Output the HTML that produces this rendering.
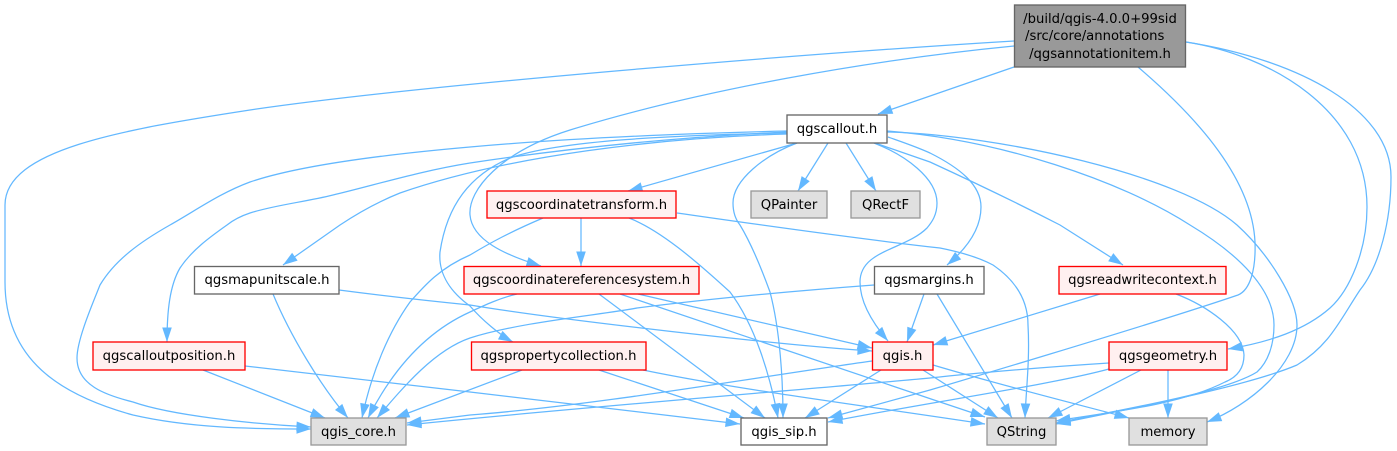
<!DOCTYPE html>
<html><head><meta charset="utf-8"><style>
html,body{margin:0;padding:0;background:#fff;width:1397px;height:451px;overflow:hidden}
svg{display:block}
text{font-family:"DejaVu Sans",sans-serif;font-size:13.2px;fill:#000;text-anchor:middle}
.e{fill:none;stroke:#63b8ff;stroke-width:1.25;marker-end:url(#a)}
.r{fill:#fff0f0;stroke:#f00;stroke-width:1.33}
.g{fill:#e0e0e0;stroke:#999;stroke-width:1.33}
.w{fill:#fff;stroke:#666;stroke-width:1.33}
</style></head><body>
<svg width="1397" height="451" viewBox="0 0 1397 451" xmlns="http://www.w3.org/2000/svg">
<defs><marker id="a" markerUnits="userSpaceOnUse" markerWidth="16" markerHeight="12" refX="15" refY="6" orient="auto" viewBox="0 0 16 12"><path d="M0.500,1.200 L15,6 L0.500,10.800 z" fill="#63b8ff"/></marker></defs>
<path class="e" d="M1014,41 C800,54 420,85 250,110 C120,130 5,150 5,205 L5,282 C5,360 60,395 133,415 C190,428 250,429 311,429"/>
<path class="e" d="M1014,67 L878,114"/>
<path class="e" d="M1014,46 C870,60 700,90 570,130 C500,152 468,190 470,215 C472,240 505,255 541,266"/>
<path class="e" d="M1138,67 C1200,120 1252,180 1255,242 C1256,270 1250,290 1238,295 C1150,325 930,390 930,390 L828,418"/>
<path class="e" d="M1186,42 C1270,55 1367,110 1367,207 C1367,250 1350,290 1330,308 C1305,330 1270,342 1228,349"/>
<path class="e" d="M1186,42 C1300,60 1391,110 1391,177 C1391,220 1380,265 1360,290 C1340,320 1330,345 1297,365 C1250,385 1150,405 1056,424"/>
<path class="e" d="M787,131 C660,134 560,139 470,147 C390,154 300,165 250,182 C220,193 195,211 170,225 C140,242 115,260 100,285 C92,305 77,340 77,358 C77,385 105,395 133,402 C170,415 250,424 311,427"/>
<path class="e" d="M787,132 C680,137 570,148 470,163 C420,171 375,185 333,195 C305,202 275,205 250,213 C238,217 232,221 227,225 C210,237 192,250 180,268 C170,285 167,310 167,342"/>
<path class="e" d="M787,134 C660,138 510,155 400,193 C375,203 355,215 340,225 L283,265"/>
<path class="e" d="M787,133 C680,135 560,140 510,158 C470,175 447,205 440,252 C438,275 452,293 470,306 C482,320 500,335 513,342"/>
<path class="e" d="M797,143 L628,191"/>
<path class="e" d="M797,143 C765,155 733,180 733,203 C733,213 736,220 740,225 C752,245 762,270 770,292 C780,330 783,380 783,418"/>
<path class="e" d="M828,143 L798,191"/>
<path class="e" d="M846,143 L876,191"/>
<path class="e" d="M874,143 C905,155 937,178 937,203 C937,215 932,222 927,228 C905,250 860,250 860,282 C860,300 870,320 888,341"/>
<path class="e" d="M888,137 C905,143 917,147 930,153 C960,168 981,185 981,207 C981,230 965,250 947,265"/>
<path class="e" d="M875,143 C890,148 910,155 930,162 C980,185 1025,207 1060,225 L1123,265"/>
<path class="e" d="M887,131 C1000,140 1120,180 1190,225 C1240,255 1274,290 1274,325 C1274,345 1268,362 1257,372 C1225,392 1130,408 1056,423"/>
<path class="e" d="M887,132 C1000,135 1180,175 1237,225 C1270,255 1297,300 1297,325 C1297,365 1250,405 1207,422"/>
<path class="e" d="M581,218 L581,266"/>
<path class="e" d="M543,218 C510,232 490,243 470,255 C440,268 425,285 410,302 C390,330 372,370 362,418"/>
<path class="e" d="M629,218 C660,230 695,260 730,292 C755,325 770,375 778,418"/>
<path class="e" d="M677,213 C740,222 850,238 940,248 C960,252 980,258 993,265 C1015,280 1028,300 1028,325 C1030,360 1026,390 1025,418"/>
<path class="e" d="M517,294 C500,298 485,305 470,312 C430,330 395,365 368,418"/>
<path class="e" d="M599,294 L765,418"/>
<path class="e" d="M638,294 L872,348"/>
<path class="e" d="M620,294 C680,315 800,355 940,402 L985,417"/>
<path class="e" d="M273,294 C290,335 320,385 348,418"/>
<path class="e" d="M339,290 C400,298 470,305 470,305 C560,320 780,345 872,351"/>
<path class="e" d="M874,285 C780,292 700,300 637,308 C600,315 520,322 470,338 C435,350 405,385 377,418"/>
<path class="e" d="M924,294 L907,342"/>
<path class="e" d="M937,294 L1012,418"/>
<path class="e" d="M1100,294 L933,345"/>
<path class="e" d="M1176,294 C1205,305 1243,330 1244,355 C1244,370 1235,378 1225,382 C1180,405 1110,412 1056,421"/>
<path class="e" d="M203,370 L325,418"/>
<path class="e" d="M245,366 L470,392 L740,424"/>
<path class="e" d="M522,370 L395,418"/>
<path class="e" d="M599,370 L744,418"/>
<path class="e" d="M643,370 C740,390 860,405 985,424"/>
<path class="e" d="M872,361 C750,378 600,405 470,415 L407,423"/>
<path class="e" d="M881,370 L805,418"/>
<path class="e" d="M923,370 L998,418"/>
<path class="e" d="M933,365 C1000,385 1080,405 1129,418"/>
<path class="e" d="M1109,363 C1000,370 930,378 930,378 C800,390 550,410 407,425"/>
<path class="e" d="M1109,369 C1050,385 930,402 828,422"/>
<path class="e" d="M1141,370 L1048,418"/>
<path class="e" d="M1168,370 L1168,418"/>

<rect x="1014.5" y="5" width="171" height="62" fill="#999" stroke="#666" stroke-width="1.33"/>
<text x="1100" y="23">/build/qgis-4.0.0+99sid</text>
<text x="1025" y="40" style="text-anchor:start">/src/core/annotations</text>
<text x="1100" y="58">/qgsannotationitem.h</text>
<rect class="w" x="787" y="115" width="100" height="28"/><text x="837" y="133">qgscallout.h</text>
<rect class="r" x="487" y="191" width="189" height="27"/><text x="581.5" y="209">qgscoordinatetransform.h</text>
<rect class="g" x="751" y="191" width="76" height="27"/><text x="789" y="209">QPainter</text>
<rect class="g" x="851" y="191" width="69" height="27"/><text x="885.5" y="209">QRectF</text>
<rect class="w" x="194.500" y="266.500" width="144.500" height="27.500"/><text x="267" y="284">qgsmapunitscale.h</text>
<rect class="r" x="464" y="266.500" width="235" height="27.500"/><text x="581.5" y="284">qgscoordinatereferencesystem.h</text>
<rect class="w" x="874.500" y="266.500" width="109.500" height="27.500"/><text x="929" y="284">qgsmargins.h</text>
<rect class="r" x="1059" y="266.500" width="167" height="27.500"/><text x="1142.500" y="284">qgsreadwritecontext.h</text>
<rect class="r" x="93" y="342" width="152" height="28"/><text x="169" y="360">qgscalloutposition.h</text>
<rect class="r" x="471.500" y="342" width="174.500" height="28"/><text x="558.500" y="360">qgspropertycollection.h</text>
<rect class="r" x="872.500" y="342" width="60.500" height="28"/><text x="902.500" y="360">qgis.h</text>
<rect class="r" x="1109" y="342" width="118" height="28"/><text x="1168" y="360">qgsgeometry.h</text>
<rect class="g" x="311" y="418" width="95" height="27"/><text x="358.500" y="436">qgis_core.h</text>
<rect class="w" x="741" y="418" width="86" height="27"/><text x="784" y="436">qgis_sip.h</text>
<rect class="g" x="987" y="418" width="69" height="27"/><text x="1021.500" y="436">QString</text>
<rect class="g" x="1129" y="418" width="78" height="27"/><text x="1168" y="436">memory</text>
</svg>
</body></html>
